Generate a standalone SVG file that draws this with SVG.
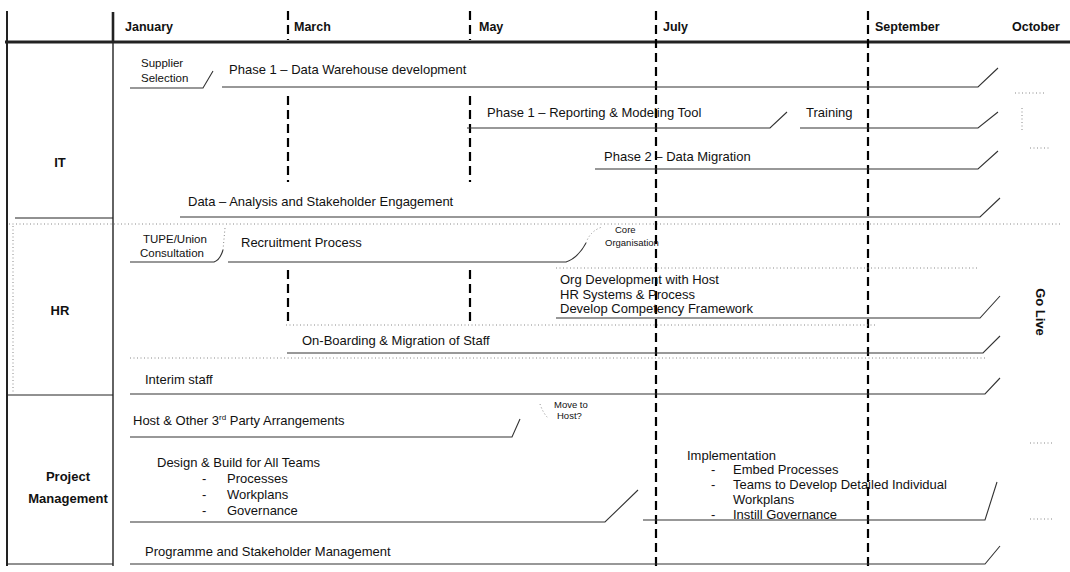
<svg xmlns="http://www.w3.org/2000/svg" width="1070" height="572" viewBox="0 0 1070 572">
<style>
  text { font-family: "Liberation Sans", Arial, sans-serif; fill: #111; }
  .h { font-size: 12.5px; font-weight: bold; }
  .t { font-size: 13px; }
  .s { font-size: 11.5px; }
  .xs { font-size: 9.5px; }
  .lab { font-size: 13px; font-weight: bold; text-anchor: middle; }
  .bar { fill: none; stroke: #333; stroke-width: 1.1; }
  .dot { fill: none; stroke: #888; stroke-width: 1; stroke-dasharray: 1 2.5; }
  .vd { stroke: #000; stroke-width: 2.2; stroke-dasharray: 9 5; }
  .grid { stroke: #222; fill: none; }
</style>
<rect width="1070" height="572" fill="#fff"/>

<g id="grid">
  <line class="grid" x1="7" y1="11" x2="7" y2="566" stroke-width="2"/>
  <line class="grid" x1="113" y1="12" x2="113" y2="43" stroke-width="2.6"/>
  <line class="grid" x1="113" y1="43" x2="113" y2="566" stroke-width="1.4" stroke="#444"/>
  <line class="grid" x1="5" y1="42" x2="1070" y2="42" stroke-width="3" stroke="#000"/>
  <line class="grid" x1="15" y1="218" x2="113" y2="218" stroke-width="1" stroke="#555"/>
  <line class="dot" x1="9" y1="224" x2="1062" y2="224"/>
  <line class="dot" x1="13" y1="226" x2="13" y2="394"/>
  <line class="grid" x1="8" y1="395" x2="113" y2="395" stroke-width="1" stroke="#555"/>
  <line class="grid" x1="8" y1="564" x2="113" y2="564" stroke-width="1" stroke="#555"/>
</g>

<g id="month-lines">
  <line class="vd" x1="288" y1="11" x2="288" y2="40"/>
  <line class="vd" x1="288" y1="96" x2="288" y2="182"/>
  <line class="vd" x1="288" y1="270" x2="288" y2="322"/>
  <line class="vd" x1="470" y1="11" x2="470" y2="40"/>
  <line class="vd" x1="470" y1="96" x2="470" y2="182"/>
  <line class="vd" x1="470" y1="270" x2="470" y2="322"/>
  <line class="vd" x1="656" y1="11" x2="656" y2="566"/>
  <line class="vd" x1="868" y1="11" x2="868" y2="566"/>
</g>

<g id="header">
  <text class="h" x="125" y="31">January</text>
  <text class="h" x="294" y="31">March</text>
  <text class="h" x="479" y="31">May</text>
  <text class="h" x="663" y="31">July</text>
  <text class="h" x="875" y="31">September</text>
  <text class="h" x="1012" y="31">October</text>
</g>

<g id="row-labels">
  <text class="lab" x="60" y="167">IT</text>
  <text class="lab" x="60" y="315">HR</text>
  <text class="lab" x="68" y="481">Project</text>
  <text class="lab" x="68" y="503">Management</text>
  <text class="lab" transform="translate(1036,312) rotate(90)">Go Live</text>
</g>

<g id="connectors">
  <path id="bar-supplier" class="bar" d="M130,88 H203 L213,71"/>
  <path id="bar-dw" class="bar" d="M222,87 H978 L998,68"/>
  <path id="bar-reporting" class="bar" d="M467,128 H770 L787,112"/>
  <path id="bar-training" class="bar" d="M800,128 H978 L998,112"/>
  <path id="bar-migration" class="bar" d="M595,169 H978 L998,151"/>
  <path id="bar-analysis" class="bar" d="M180,217 H980 L1000,198"/>
  <path id="bar-tupe" class="bar" d="M130,262 H214 Q220,260 223,250"/>
  <path class="dot" d="M223,250 L225,228"/>
  <path id="bar-recruit" class="bar" d="M228,262 H566 Q578,258 586,243"/>
  <path class="dot" d="M586,243 Q590,231 602,227"/>
  <line class="dot" x1="556" y1="268" x2="978" y2="268"/>
  <path id="bar-orgdev" class="bar" d="M556,318 H980 L1000,296"/>
  <line class="dot" x1="286" y1="325" x2="875" y2="325"/>
  <path id="bar-onboard" class="bar" d="M287,353 H983 L1000,336"/>
  <line class="dot" x1="130" y1="358" x2="985" y2="358"/>
  <path id="bar-interim" class="bar" d="M130,394 H985 L1000,378"/>
  <path id="bar-host" class="bar" d="M130,437 H512 L520,419"/>
  <path class="dot" d="M540,404 Q543,413 548,418"/>
  <path id="bar-design" class="bar" d="M130,522 H605 L638,490"/>
  <path id="bar-impl" class="bar" d="M643,520 H985 L997,482"/>
  <path id="bar-programme" class="bar" d="M130,564 H985 L1000,546"/>
  <line class="dot" x1="1015" y1="93" x2="1045" y2="93"/>
  <line class="dot" x1="1022" y1="108" x2="1022" y2="132"/>
  <line class="dot" x1="1030" y1="148" x2="1050" y2="148"/>
  <line class="dot" x1="1030" y1="443" x2="1052" y2="443"/>
  <line class="dot" x1="1030" y1="519" x2="1052" y2="519"/>
</g>

<g id="task-supplier"><text class="s" x="141" y="67">Supplier</text><text class="s" x="141" y="82">Selection</text></g>
<g id="task-dw"><text class="t" x="229" y="74">Phase 1 – Data Warehouse development</text></g>
<g id="task-reporting"><text class="t" x="487" y="117">Phase 1 – Reporting &amp; Modeling Tool</text></g>
<g id="task-training"><text class="t" x="806" y="117">Training</text></g>
<g id="task-migration"><text class="t" x="604" y="161">Phase 2 – Data Migration</text></g>
<g id="task-analysis"><text class="t" x="188" y="206">Data – Analysis and Stakeholder Engagement</text></g>
<g id="task-tupe"><text class="s" x="143" y="243">TUPE/Union</text><text class="s" x="140" y="257">Consultation</text></g>
<g id="task-recruit"><text class="t" x="241" y="247">Recruitment Process</text></g>
<g id="task-core"><text class="xs" x="615" y="233">Core</text><text class="xs" x="605" y="246">Organisation</text></g>
<g id="task-orgdev">
  <text class="t" x="560" y="284">Org Development with Host</text>
  <text class="t" x="560" y="299">HR Systems &amp; Process</text>
  <text class="t" x="560" y="313">Develop Competency Framework</text>
</g>
<g id="task-onboard"><text class="t" x="302" y="345">On-Boarding &amp; Migration of Staff</text></g>
<g id="task-interim"><text class="t" x="145" y="384">Interim staff</text></g>
<g id="task-host"><text class="t" x="133" y="425">Host &amp; Other 3<tspan font-size="8" dy="-5">rd</tspan><tspan dy="5"> Party Arrangements</tspan></text></g>
<g id="task-move"><text class="xs" x="554" y="408">Move to</text><text class="xs" x="557" y="419">Host?</text></g>
<g id="task-design">
  <text class="t" x="157" y="467">Design &amp; Build for All Teams</text>
  <text class="t" x="202" y="483">-</text><text class="t" x="227" y="483">Processes</text>
  <text class="t" x="202" y="499">-</text><text class="t" x="227" y="499">Workplans</text>
  <text class="t" x="202" y="515">-</text><text class="t" x="227" y="515">Governance</text>
</g>
<g id="task-impl">
  <text class="t" x="687" y="460">Implementation</text>
  <text class="t" x="711" y="474">-</text><text class="t" x="733" y="474">Embed Processes</text>
  <text class="t" x="711" y="489">-</text><text class="t" x="733" y="489">Teams to Develop Detailed Individual</text>
  <text class="t" x="733" y="504">Workplans</text>
  <text class="t" x="711" y="519">-</text><text class="t" x="733" y="519">Instill Governance</text>
</g>
<g id="task-programme"><text class="t" x="145" y="556">Programme and Stakeholder Management</text></g>
</svg>
